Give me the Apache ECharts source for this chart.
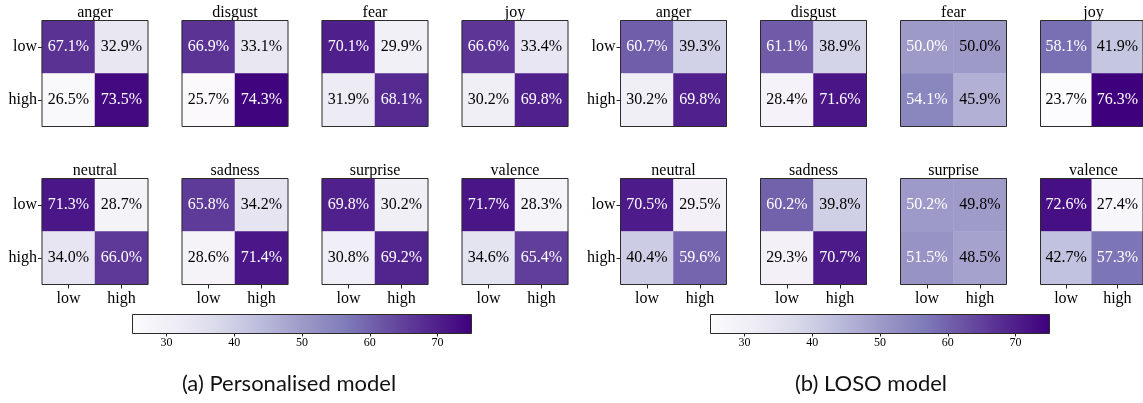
<!DOCTYPE html>
<html>
<head>
<meta charset="utf-8">
<script src="https://cdn.jsdelivr.net/npm/echarts@6/dist/echarts.min.js"></script>
<style>
  html, body { margin: 0; padding: 0; background: #fff; }
  #chart { width: 1143px; height: 403px; }
</style>
</head>
<body>
<div id="chart"></div>
<script>
// Binary-level confusion matrices (row = true level, column = predicted level), in percent.
const levels = ['low', 'high'];
const emotions = ['anger', 'disgust', 'fear', 'joy', 'neutral', 'sadness', 'surprise', 'valence'];

const personalised = {
  anger:    [[67.1, 32.9], [26.5, 73.5]],
  disgust:  [[66.9, 33.1], [25.7, 74.3]],
  fear:     [[70.1, 29.9], [31.9, 68.1]],
  joy:      [[66.6, 33.4], [30.2, 69.8]],
  neutral:  [[71.3, 28.7], [34.0, 66.0]],
  sadness:  [[65.8, 34.2], [28.6, 71.4]],
  surprise: [[69.8, 30.2], [30.8, 69.2]],
  valence:  [[71.7, 28.3], [34.6, 65.4]]
};

const loso = {
  anger:    [[60.7, 39.3], [30.2, 69.8]],
  disgust:  [[61.1, 38.9], [28.4, 71.6]],
  fear:     [[50.04, 49.96], [54.1, 45.9]],
  joy:      [[58.1, 41.9], [23.7, 76.3]],
  neutral:  [[70.5, 29.5], [40.4, 59.6]],
  sadness:  [[60.2, 39.8], [29.3, 70.7]],
  surprise: [[50.2, 49.8], [51.5, 48.5]],
  valence:  [[72.6, 27.4], [42.7, 57.3]]
};

const colorbarTicks = [30, 40, 50, 60, 70];
const colorRange = [25, 75];
const captions = ['(a) Personalised model', '(b) LOSO model'];

// "Purples" sequential palette
const purples = ['#fcfbfd', '#efedf5', '#dadaeb', '#bcbddc', '#9e9ac8',
                 '#807dba', '#6a51a3', '#54278f', '#3f007d'];

const SERIF = '"Liberation Serif", "DejaVu Serif", serif';
const panels = [
  { data: personalised, left: 42,    barLeft: 132.5, caption: captions[0], capX: 289 },
  { data: loso,         left: 620.5, barLeft: 710.5, caption: captions[1], capX: 871 }
];
const CELL = 106, COL_STEP = 140, ROW_TOPS = [20.5, 178.5];

const grid = [], xAxis = [], yAxis = [], series = [], title = [];
const heatIdx = [];

panels.forEach((p, pi) => {
  emotions.forEach((emo, ei) => {
    const row = Math.floor(ei / 4), col = ei % 4;
    const gi = grid.length;
    const left = p.left + col * COL_STEP, top = ROW_TOPS[row];
    grid.push({
      left: left, top: top, width: CELL, height: CELL,
      show: true, borderColor: '#2b2b2b', borderWidth: 1,
      backgroundColor: 'transparent', z: 10
    });
    const bottom = row === 1, first = col === 0;
    xAxis.push({
      type: 'category', data: levels, gridIndex: gi,
      axisLine: { show: false },
      axisTick: { show: bottom, alignWithLabel: true, length: 4, lineStyle: { color: '#222' } },
      axisLabel: { show: bottom, fontFamily: SERIF, fontSize: 16, color: '#000', margin: 6 },
      splitLine: { show: false }
    });
    yAxis.push({
      type: 'category', data: levels, gridIndex: gi, inverse: true,
      axisLine: { show: false },
      axisTick: { show: first, alignWithLabel: true, length: 4, lineStyle: { color: '#222' } },
      axisLabel: { show: first, fontFamily: SERIF, fontSize: 16, color: '#000', margin: 5 },
      splitLine: { show: false }
    });
    const m = p.data[emo];
    const cells = [];
    for (let r = 0; r < 2; r++) {
      for (let c = 0; c < 2; c++) {
        const v = m[r][c];
        cells.push({ value: [c, r, v], label: { color: v > 50 ? '#fff' : '#000' } });
      }
    }
    heatIdx.push(series.length);
    series.push({
      type: 'heatmap', xAxisIndex: gi, yAxisIndex: gi, data: cells,
      label: {
        show: true, fontFamily: SERIF, fontSize: 16,
        formatter: (d) => d.value[2].toFixed(1) + '%'
      },
      emphasis: { disabled: true }
    });
    title.push({
      text: emo, left: left + CELL / 2, top: top - 16, textAlign: 'center', padding: 0,
      textStyle: { fontFamily: SERIF, fontSize: 16, fontWeight: 'normal', color: '#000', lineHeight: 16 }
    });
  });

  // colour bar
  const gi = grid.length;
  grid.push({
    left: p.barLeft, top: 314.5, width: 339, height: 19,
    show: true, borderColor: '#2b2b2b', borderWidth: 1, backgroundColor: 'transparent', z: 10
  });
  xAxis.push({
    type: 'value', gridIndex: gi, min: colorRange[0], max: colorRange[1],
    axisLine: { show: false },
    axisTick: { show: true, length: 3, customValues: colorbarTicks, lineStyle: { color: '#222' } },
    axisLabel: { show: true, customValues: colorbarTicks, fontFamily: SERIF, fontSize: 12, color: '#000', margin: 3 },
    splitLine: { show: false }
  });
  yAxis.push({
    type: 'value', gridIndex: gi, min: 0, max: 1,
    axisLine: { show: false }, axisTick: { show: false }, axisLabel: { show: false }, splitLine: { show: false }
  });
  series.push({
    type: 'custom', xAxisIndex: gi, yAxisIndex: gi, data: [[colorRange[0], colorRange[1]]],
    silent: true,
    renderItem: (params, api) => {
      const a = api.coord([api.value(0), 1]);
      const b = api.coord([api.value(1), 0]);
      return {
        type: 'rect',
        shape: { x: a[0], y: a[1], width: b[0] - a[0], height: b[1] - a[1] },
        style: {
          fill: new echarts.graphic.LinearGradient(0, 0, 1, 0,
            purples.map((c, i) => ({ offset: i / (purples.length - 1), color: c })))
        }
      };
    }
  });

  title.push({
    text: p.caption, left: p.capX, top: 372, textAlign: 'center', padding: 0,
    textStyle: { fontFamily: 'Lato, "Noto Sans", sans-serif', fontSize: 22, fontWeight: 'normal', color: '#111', lineHeight: 24 }
  });
});

const chart = echarts.init(document.getElementById('chart'), null, { renderer: 'canvas' });
chart.setOption({
  backgroundColor: '#fff',
  animation: false,
  title: title,
  grid: grid,
  xAxis: xAxis,
  yAxis: yAxis,
  visualMap: {
    show: false, type: 'continuous', seriesIndex: heatIdx,
    min: colorRange[0], max: colorRange[1], dimension: 2,
    inRange: { color: purples }
  },
  series: series
});
</script>
</body>
</html>
